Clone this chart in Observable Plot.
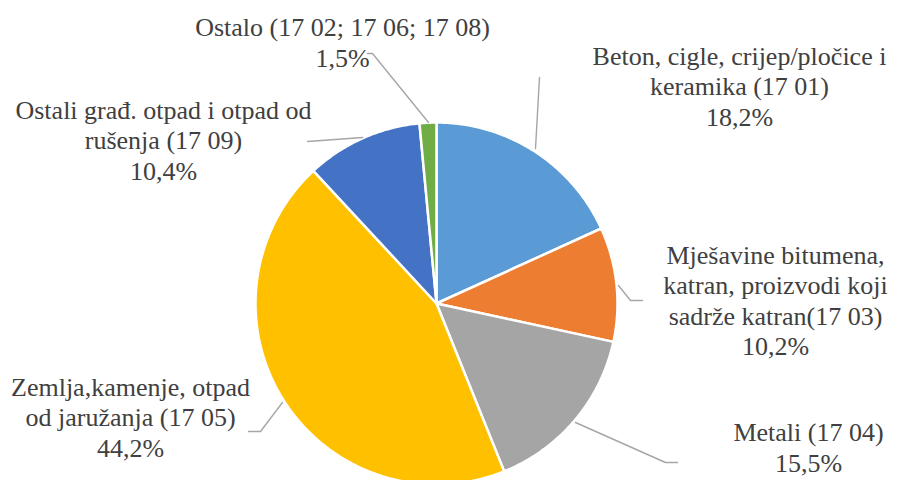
<!DOCTYPE html>
<html><head><meta charset="utf-8">
<script src="https://cdn.jsdelivr.net/npm/d3@7"></script>
<script src="https://cdn.jsdelivr.net/npm/@observablehq/plot@0.6"></script>
<style>
body{margin:0;background:#fff}
#chart svg text{font-family:"Liberation Serif","Times New Roman",serif !important;}
</style>
</head><body><div id="chart"></div>
<script>
// ---- data ----
const categories = [
  "Beton, cigle, crijep/pločice i\nkeramika (17 01)",
  "Mješavine bitumena,\nkatran, proizvodi koji\nsadrže katran(17 03)",
  "Metali (17 04)",
  "Zemlja,kamenje, otpad\nod jaružanja (17 05)",
  "Ostali građ. otpad i otpad od\nrušenja (17 09)",
  "Ostalo (17 02; 17 06; 17 08)"
];
const values = [18.2, 10.2, 15.5, 44.2, 10.4, 1.5];
const colors = ["#5B9BD5", "#ED7D31", "#A5A5A5", "#FFC000", "#4472C4", "#70AD47"];

// ---- layout (pixels) ----
const W = 903, H = 480, CX = 436, CY = 303, R = 181;
const labelPos = [[739, 85], [775, 299], [808, 446], [130, 416], [163, 139], [342, 41]];
const leaderPx = [
  [[539, 77], [535, 148]],
  [[618, 285], [630, 300], [642, 300]],
  [[575, 422], [665, 462], [677, 462]],
  [[282, 402], [260, 431], [248, 431]],
  [[307, 141], [362, 137]],
  [[367, 53], [372, 53], [428, 122]]
];
const ux = px => (px - CX) / R, uy = py => (CY - py) / R;

// ---- geometry from data ----
const arcs = d3.pie().sort(null).value(d => d)(values);
const polys = [];
arcs.forEach((p, i) => {
  const n = Math.max(2, Math.ceil((p.endAngle - p.startAngle) / 0.01));
  polys.push({i, x: 0, y: 0});
  for (let k = 0; k <= n; k++) {
    const a = p.startAngle + (p.endAngle - p.startAngle) * k / n;
    polys.push({i, x: Math.sin(a), y: Math.cos(a)});
  }
  polys.push({i, x: 0, y: 0});
});
const fmt = v => d3.format(".1f")(v).replace(".", ",") + "%";
const labels = categories.map((c, i) => ({
  text: c + "\n" + fmt(values[i]), x: ux(labelPos[i][0]), y: uy(labelPos[i][1])
}));
const leaders = leaderPx.flatMap((pts, i) => pts.map(([px, py]) => ({i, x: ux(px), y: uy(py)})));

const chart = Plot.plot({
  width: W, height: H, margin: 0,
  x: {domain: [ux(0), ux(W)], axis: null},
  y: {domain: [uy(H), uy(0)], axis: null},
  color: {domain: d3.range(values.length), range: colors},
  style: {background: "#fff", fontFamily: "Liberation Serif"},
  marks: [
    Plot.line(polys, {x: "x", y: "y", z: "i", fill: "i", stroke: "#fff", strokeWidth: 2.5, strokeLinejoin: "round"}),
    Plot.line(leaders, {x: "x", y: "y", z: "i", stroke: "#A6A6A6", strokeWidth: 1.4}),
    Plot.text(labels, {x: "x", y: "y", text: "text", fontSize: 26, fontFamily: "Liberation Serif",
      fill: "#404040", lineHeight: 30.5 / 26, textAnchor: "middle"})
  ]
});
document.getElementById("chart").appendChild(chart);
</script>
</body></html>
